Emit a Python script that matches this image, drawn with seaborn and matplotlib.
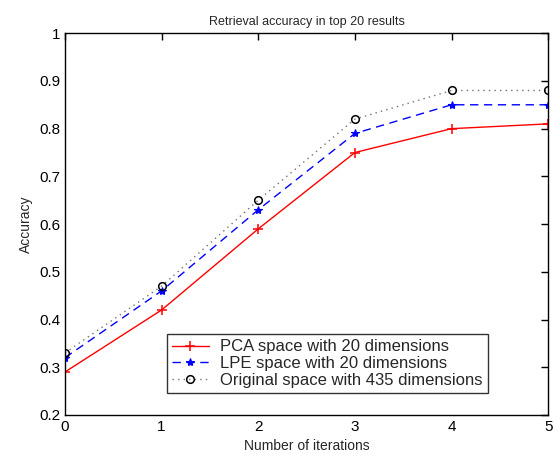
import matplotlib
matplotlib.use("Agg")
import matplotlib.pyplot as plt
import seaborn as sns
import pandas as pd

# data
iterations = [0, 1, 2, 3, 4, 5]
pca_acc = [0.29, 0.42, 0.59, 0.75, 0.80, 0.81]
lpe_acc = [0.32, 0.46, 0.63, 0.79, 0.85, 0.85]
orig_acc = [0.33, 0.47, 0.65, 0.82, 0.88, 0.88]
labels = ["PCA space with 20 dimensions",
          "LPE space with 20 dimensions",
          "Original space with 435 dimensions"]

sns.set_style("white")
plt.rcParams["font.family"] = ["Liberation Sans", "DejaVu Sans"]

fig = plt.figure(figsize=(5.6, 4.55), dpi=100)
ax = fig.add_axes([0.116, 0.088, 0.863, 0.839])

df = pd.DataFrame({"x": iterations, "pca": pca_acc, "lpe": lpe_acc, "orig": orig_acc})

sns.lineplot(data=df, x="x", y="pca", ax=ax, color="red", lw=1.0,
             marker="+", markersize=7, mew=1.1, mec="red", label=labels[0])
sns.lineplot(data=df, x="x", y="lpe", ax=ax, color="blue", lw=1.0,
             linestyle=(0, (6, 4)), marker="*", markersize=6, mew=0.8,
             mec="blue", mfc="blue", label=labels[1])
sns.lineplot(data=df, x="x", y="orig", ax=ax, color="0.45", lw=1.0,
             linestyle=(0, (1, 3)), marker="o", markersize=5.5, mfc="none",
             mew=1.1, mec="black", label=labels[2])

ax.set_xlim(0, 5)
ax.set_ylim(0.2, 1.0)
ax.set_xticks(iterations)
ax.set_yticks([0.2, 0.3, 0.4, 0.5, 0.6, 0.7, 0.8, 0.9, 1.0])
ax.set_yticklabels(["0.2", "0.3", "0.4", "0.5", "0.6", "0.7", "0.8", "0.9", "1"])
ax.tick_params(direction="in", length=5, width=1, top=True, right=True,
               labelsize=11, colors="black")
for s in ax.spines.values():
    s.set_visible(True)
    s.set_color("black")
    s.set_linewidth(1.0)

ax.set_xlabel("Number of iterations", fontsize=10)
ax.set_ylabel("Accuracy", fontsize=10)
ax.set_title("Retrieval accuracy in top 20 results", fontsize=9)

leg = ax.legend(loc="lower left", bbox_to_anchor=(0.211, 0.058), fontsize=12,
                frameon=True, fancybox=False, edgecolor="black",
                handlelength=2.2, borderpad=0.3, labelspacing=0.1,
                handletextpad=0.7, borderaxespad=0)
leg.get_frame().set_linewidth(1.0)

fig.savefig("out.png", dpi=100)
